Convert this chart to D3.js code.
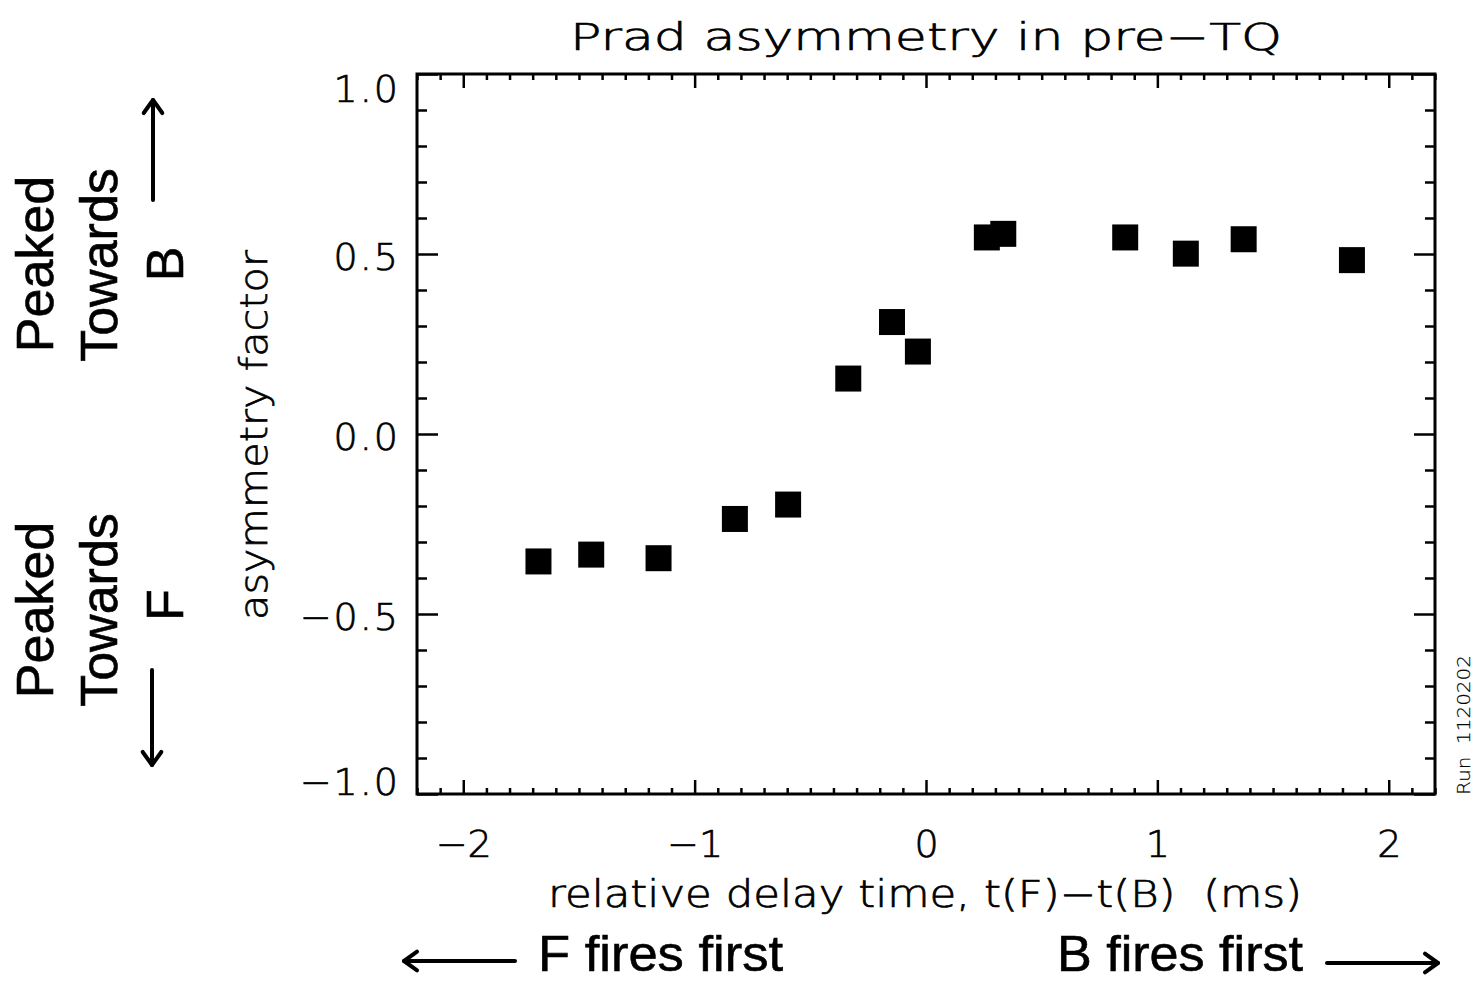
<!DOCTYPE html>
<html>
<head>
<meta charset="utf-8">
<script src="https://cdn.jsdelivr.net/npm/d3@7"></script>
<style>
  html, body { margin: 0; padding: 0; background: #fff; }
  svg { display: block; }
  .hershey { font-family: "DejaVu Sans", sans-serif; font-weight: 200; fill: #000; stroke: #000; stroke-width: 0.7px; }
  .arial { font-family: "Liberation Sans", Arial, sans-serif; fill: #000; stroke: #000; stroke-width: 0.6px; }
</style>
</head>
<body>
<svg id="chart" width="1474" height="982"></svg>
<script>
// ---- data ----
const delayTime = [-1.675, -1.447, -1.156, -0.826, -0.596, -0.336, -0.147, -0.035, 0.263, 0.334, 0.861, 1.123, 1.373, 1.841];
const asymmetry = [-0.354, -0.335, -0.345, -0.236, -0.196, 0.154, 0.311, 0.229, 0.546, 0.556, 0.546, 0.501, 0.541, 0.483];
const xTicks = [-2, -1, 0, 1, 2];
const xTickLabels = ["\u22122", "\u22121", "0", "1", "2"];
const yTicks = [-1, -0.5, 0, 0.5, 1];
const yTickLabels = ["\u22121.0", "\u22120.5", "0.0", "0.5", "1.0"];
const titleText = "Prad asymmetry in pre\u2212TQ";
const xTitle = "relative delay time, t(F)\u2212t(B)  (ms)";
const yTitle = "asymmetry factor";

// ---- layout ----
const svg = d3.select("#chart");
const L = 417, R = 1435, T = 74, B = 794;
const x = d3.scaleLinear().domain([-2.2, 2.2]).range([L, R]);
const y = d3.scaleLinear().domain([-1, 1]).range([B, T]);

const xMinor = d3.range(-22, 23).map(d => d / 10).filter(v => !xTicks.some(t => Math.abs(t - v) < 1e-9));
const yMinor = d3.range(-10, 11).map(d => d / 10).filter(v => !yTicks.some(t => Math.abs(t - v) < 1e-9));

function styleAxis(g) {
  g.select(".domain").remove();
  g.selectAll(".tick line").attr("stroke", "#000").attr("stroke-width", 2.5);
}

// bottom axis majors with labels
const gxb = svg.append("g").attr("transform", `translate(0,${B})`)
  .call(d3.axisBottom(x).tickValues(xTicks).tickSize(-14).tickPadding(50)
    .tickFormat((d, i) => xTickLabels[i]));
styleAxis(gxb);
gxb.selectAll(".tick text").attr("class", "hershey").attr("font-size", 38).attr("dy", "0")
  .attr("y", 63);
svg.append("g").attr("transform", `translate(0,${B})`)
  .call(d3.axisBottom(x).tickValues(xMinor).tickSize(-6).tickFormat(""))
  .call(styleAxis);
// top axis
svg.append("g").attr("transform", `translate(0,${T})`)
  .call(d3.axisTop(x).tickValues(xTicks).tickSize(-14).tickFormat(""))
  .call(styleAxis);
svg.append("g").attr("transform", `translate(0,${T})`)
  .call(d3.axisTop(x).tickValues(xMinor).tickSize(-6).tickFormat(""))
  .call(styleAxis);

// left axis with labels
const gyl = svg.append("g").attr("transform", `translate(${L},0)`)
  .call(d3.axisLeft(y).tickValues(yTicks).tickSize(-21).tickPadding(17)
    .tickFormat((d, i) => yTickLabels[i]));
styleAxis(gyl);
gyl.selectAll(".tick text").attr("class", "hershey").attr("font-size", 38)
  .attr("dy", d => d === 1 ? "0.72em" : (d === -1 ? "0.0em" : "0.42em"))
  .style("letter-spacing", "2px");
svg.append("g").attr("transform", `translate(${L},0)`)
  .call(d3.axisLeft(y).tickValues(yMinor).tickSize(-10).tickFormat(""))
  .call(styleAxis);
// right axis
svg.append("g").attr("transform", `translate(${R},0)`)
  .call(d3.axisRight(y).tickValues(yTicks).tickSize(-21).tickFormat(""))
  .call(styleAxis);
svg.append("g").attr("transform", `translate(${R},0)`)
  .call(d3.axisRight(y).tickValues(yMinor).tickSize(-10).tickFormat(""))
  .call(styleAxis);

// frame
svg.append("rect").attr("x", L).attr("y", T).attr("width", R - L).attr("height", B - T)
  .attr("fill", "none").attr("stroke", "#000").attr("stroke-width", 3);

// points
const sq = d3.symbol().type(d3.symbolSquare).size(26 * 26);
svg.append("g").selectAll("path").data(delayTime).join("path")
  .attr("d", sq)
  .attr("transform", (d, i) => `translate(${x(d)},${y(asymmetry[i])})`)
  .attr("fill", "#000");

// titles
svg.append("text").attr("class", "hershey").attr("x", 926).attr("y", 50)
  .attr("text-anchor", "middle").attr("font-size", 37)
  .attr("textLength", 712).attr("lengthAdjust", "spacingAndGlyphs")
  .text(titleText);

svg.append("text").attr("class", "hershey").attr("x", 925).attr("y", 907)
  .attr("text-anchor", "middle").attr("font-size", 37)
  .style("white-space", "pre")
  .attr("textLength", 754).attr("lengthAdjust", "spacingAndGlyphs")
  .text(xTitle);

svg.append("text").attr("class", "hershey")
  .attr("transform", "translate(267,435) rotate(-90)")
  .attr("text-anchor", "middle").attr("font-size", 37)
  .attr("textLength", 370).attr("lengthAdjust", "spacingAndGlyphs")
  .text(yTitle);

svg.append("text").attr("class", "hershey")
  .attr("transform", "translate(1470,725) rotate(-90)")
  .attr("text-anchor", "middle").attr("font-size", 18)
  .style("stroke-width", "0.2px")
  .attr("textLength", 140).attr("lengthAdjust", "spacingAndGlyphs")
  .style("white-space", "pre")
  .text("Run  1120202");

// left annotations
function vtext(txt, bx, cy, fs) {
  svg.append("text").attr("class", "arial")
    .attr("transform", `translate(${bx},${cy}) rotate(-90)`)
    .attr("text-anchor", "middle").attr("font-size", fs).text(txt);
}
vtext("Peaked", 53, 264, 52);
vtext("Towards", 117, 265, 52);
vtext("B", 183, 264, 52);
vtext("Peaked", 53, 610, 52);
vtext("Towards", 117, 610, 52);
vtext("F", 183, 605, 52);

function arrow(x1, y1, x2, y2) {
  const g = svg.append("g").attr("stroke", "#000").attr("stroke-width", 4).attr("fill", "none")
    .attr("stroke-linecap", "round").attr("stroke-linejoin", "round");
  g.append("line").attr("x1", x1).attr("y1", y1).attr("x2", x2).attr("y2", y2);
  const a = Math.atan2(y2 - y1, x2 - x1), h = 16, w = 0.62;
  const p1 = [x2 - h * Math.cos(a - w), y2 - h * Math.sin(a - w)];
  const p2 = [x2 - h * Math.cos(a + w), y2 - h * Math.sin(a + w)];
  g.append("path").attr("d", `M${p1[0]},${p1[1]}L${x2},${y2}L${p2[0]},${p2[1]}`);
}
arrow(153, 200, 153, 100);
arrow(152, 670, 152, 765);
arrow(515, 961, 404, 961);
arrow(1327, 963, 1438, 963);

svg.append("text").attr("class", "arial").attr("x", 538).attr("y", 971)
  .attr("font-size", 50).attr("textLength", 245).attr("lengthAdjust", "spacingAndGlyphs")
  .text("F fires first");
svg.append("text").attr("class", "arial").attr("x", 1057).attr("y", 971)
  .attr("font-size", 50).attr("textLength", 246).attr("lengthAdjust", "spacingAndGlyphs")
  .text("B fires first");
</script>
</body>
</html>
